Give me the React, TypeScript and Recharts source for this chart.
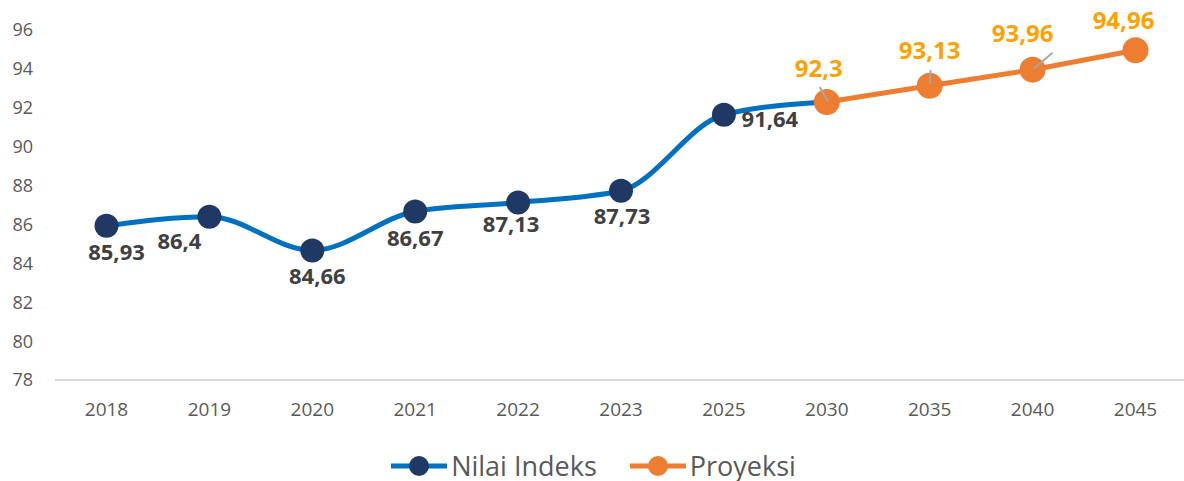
import { LineChart, Line, XAxis, YAxis, Legend, LabelList } from "recharts";

const years = ["2018", "2019", "2020", "2021", "2022", "2023", "2025", "2030", "2035", "2040", "2045"];
const nilaiIndeks = [85.93, 86.4, 84.66, 86.67, 87.13, 87.73, 91.64, 92.3, null, null, null];
const proyeksi = [null, null, null, null, null, null, null, 92.3, 93.13, 93.96, 94.96];
const yTicks = [78, 80, 82, 84, 86, 88, 90, 92, 94, 96];

const data = years.map((year, i) => ({
  year,
  nilai: nilaiIndeks[i],
  proyeksi: proyeksi[i],
}));

// label placement relative to the point (text center), by index
const blueLabelOffset: Record<number, [number, number]> = {
  0: [10, 25],
  1: [-30, 23],
  2: [5, 24],
  3: [0, 26],
  4: [-7, 21],
  5: [1, 24],
  6: [46, 3],
};
const orangeLabelOffset: Record<number, [number, number]> = {
  7: [-8, -34],
  8: [0, -36],
  9: [-10, -37],
  10: [-12, -31],
};
const orangeLeader: Record<number, [number, number, number, number]> = {
  7: [-7, -15, 1, -1],
  8: [1, -16, 0, -2],
  9: [20, -17, 1, -1],
};

const FONT = "'Open Sans', 'Segoe UI', sans-serif";
const BLUE = "#0070C0";
const NAVY = "#1F3864";
const ORANGE = "#ED7D31";
const ORANGE_TEXT = "#FFA200";

const fmt = (v: any) => String(v).replace(".", ",");

const BlueLabel = (props: any) => {
  const { x, y, value, index } = props;
  const off = blueLabelOffset[index];
  if (!off || value == null) return null;
  return (
    <text
      x={x + off[0]}
      y={y + off[1]}
      textAnchor="middle"
      dominantBaseline="central"
      fontFamily={FONT}
      fontWeight={700}
      fontSize={22}
      fill="#404040"
    >
      {fmt(value)}
    </text>
  );
};

const OrangeLabel = (props: any) => {
  const { x, y, value, index } = props;
  const off = orangeLabelOffset[index];
  if (!off || value == null) return null;
  const ld = orangeLeader[index];
  return (
    <g>
      {ld && (
        <line
          x1={x + ld[0]}
          y1={y + ld[1]}
          x2={x + ld[2]}
          y2={y + ld[3]}
          stroke="#A6A6A6"
          strokeWidth={2}
        />
      )}
      <text
        x={x + off[0]}
        y={y + off[1]}
        textAnchor="middle"
        dominantBaseline="central"
        fontFamily={FONT}
        fontWeight={700}
        fontSize={24}
        fill={ORANGE_TEXT}
      >
        {fmt(value)}
      </text>
    </g>
  );
};

const BlueDot = (props: any) => {
  const { cx, cy, index } = props;
  if (index === 7 || cx == null || cy == null) return <g key={index} />;
  return <circle key={index} cx={cx} cy={cy} r={12} fill={NAVY} />;
};

const legendItems = [
  { name: "Nilai Indeks", line: BLUE, dot: NAVY },
  { name: "Proyeksi", line: ORANGE, dot: ORANGE },
];

const CustomLegend = () => (
  <div
    style={{
      height: 51,
      display: "flex",
      justifyContent: "center",
      alignItems: "flex-start",
      paddingTop: 22,
      boxSizing: "border-box",
      fontFamily: FONT,
      fontSize: 27,
      color: "#595959",
    }}
  >
    {legendItems.map((it, i) => (
      <div
        key={it.name}
        style={{ display: "flex", alignItems: "center", marginLeft: i ? 33 : 0, height: 28 }}
      >
        <svg width={56} height={24} style={{ marginRight: 4 }}>
          <line x1={0} y1={12} x2={56} y2={12} stroke={it.line} strokeWidth={5} />
          <circle cx={28} cy={12} r={10} fill={it.dot} />
        </svg>
        <span style={{ lineHeight: "28px", whiteSpace: "nowrap" }}>{it.name}</span>
      </div>
    ))}
  </div>
);

export default function App() {
  return (
    <div style={{ position: "absolute", left: 0, top: 0 }}>
      <LineChart
        width={1184}
        height={481}
        data={data}
        margin={{ top: 30, right: -3, left: 0, bottom: 0 }}
      >
        <XAxis
          dataKey="year"
          height={50}
          padding={{ left: 51.5, right: 51.5 }}
          tickLine={false}
          tickSize={0}
          tickMargin={23}
          axisLine={{ stroke: "#C8C8C8", strokeWidth: 1.5 }}
          tick={{ fill: "#595959", fontSize: 19, fontFamily: FONT }}
          interval={0}
        />
        <YAxis
          width={55}
          domain={[78, 96]}
          ticks={yTicks}
          axisLine={false}
          tickLine={false}
          tickSize={0}
          tickMargin={22}
          tick={{ fill: "#595959", fontSize: 18, fontFamily: FONT }}
          interval={0}
        />
        <Legend verticalAlign="bottom" content={<CustomLegend />} />
        <Line
          dataKey="nilai"
          name="Nilai Indeks"
          type="monotone"
          stroke={BLUE}
          strokeWidth={5}
          dot={<BlueDot />}
          activeDot={false}
          connectNulls={false}
          isAnimationActive={false}
        >
          <LabelList dataKey="nilai" content={<BlueLabel />} />
        </Line>
        <Line
          dataKey="proyeksi"
          name="Proyeksi"
          type="linear"
          stroke={ORANGE}
          strokeWidth={5}
          dot={{ r: 13, fill: ORANGE, stroke: "none" }}
          activeDot={false}
          isAnimationActive={false}
        >
          <LabelList dataKey="proyeksi" content={<OrangeLabel />} />
        </Line>
      </LineChart>
    </div>
  );
}
